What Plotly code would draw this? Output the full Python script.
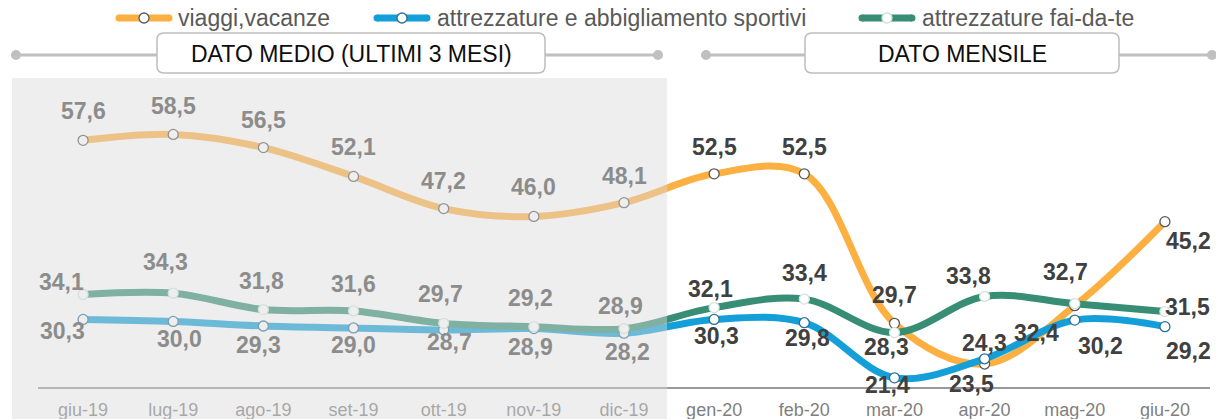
import plotly.graph_objects as go

# ---- data ----
months = ['giu-19', 'lug-19', 'ago-19', 'set-19', 'ott-19', 'nov-19', 'dic-19',
          'gen-20', 'feb-20', 'mar-20', 'apr-20', 'mag-20', 'giu-20']

viaggi = [57.6, 58.5, 56.5, 52.1, 47.2, 46.0, 48.1, 52.5, 52.5, 29.7, 23.5, 32.4, 45.2]
sportivi = [30.3, 30.0, 29.3, 29.0, 28.7, 28.9, 28.2, 30.3, 29.8, 21.4, 24.3, 30.2, 29.2]
faidate = [34.1, 34.3, 31.8, 31.6, 29.7, 29.2, 28.9, 32.1, 33.4, 28.3, 33.8, 32.7, 31.5]

names = ['viaggi,vacanze', 'attrezzature e abbigliamento sportivi', 'attrezzature fai-da-te']
n_avg = 7  # first 7 months are 3-month averages

# ---- style ----
W, H = 1216, 419
L, R, T, B = 38, 6, 78, 32
PW, PH = W - L - R, H - T - B
FONT = 'Liberation Sans, Arial, sans-serif'

colors = ['#FDB042', '#149FD8', '#378E75']
mk_line = ['#595959', '#2b6f95', '#cfe3da']

# label offsets in pixels (dx right, dy down) relative to each point
shifts = [
    [(0, -29), (0, -28), (0, -28), (0, -29), (0, -28), (0, -29), (0, -27),
     (0, -27), (0, -27), (0, -28), (-13, 20), (-38, 27), (24, 19)],
    [(-21, 12), (6, 18), (-5, 19), (0, 17), (6, 12), (-3, 18), (3, 19),
     (2, 17), (3, 15), (-7, 7), (0, -16), (26, 26), (24, 24)],
    [(-22, -13), (-8, -31), (-2, -29), (0, -27), (-3, -29), (-3, -29), (-4, -23),
     (-4, -19), (0, -26), (-8, 14), (-16, -20), (-9, -32), (23, -5)],
]


def px(x):
    return (x - L) / PW


def py(y):
    return (H - B - y) / PH


def fmt(v):
    return f'{v:.1f}'.replace('.', ',')


fig = go.Figure()
series = [viaggi, sportivi, faidate]
xs = list(range(len(months)))

for i, vals in enumerate(series):
    fig.add_trace(go.Scatter(
        x=xs, y=vals, mode='lines+markers', name=names[i],
        line=dict(color=colors[i], width=7, shape='spline', smoothing=1.0),
        marker=dict(size=10, color='white', line=dict(color=mk_line[i], width=1.3)),
        showlegend=False, hoverinfo='skip'))

annotations = []
for i, vals in enumerate(series):
    for j, v in enumerate(vals):
        dx, dy = shifts[i][j]
        annotations.append(dict(
            x=j, y=v, xref='x', yref='y', text=fmt(v), showarrow=False,
            xanchor='center', yanchor='middle',
            xshift=dx, yshift=-dy,
            font=dict(family=FONT, size=23, weight='bold',
                      color='#8c8c8c' if j < n_avg else '#404040')))

shapes = []
# shaded "average" area, drawn over the traces
shapes.append(dict(type='rect', xref='paper', yref='paper', layer='above',
                   x0=px(12), x1=px(667), y0=py(H + 5), y1=py(78),
                   fillcolor='rgba(218,218,218,0.45)', line=dict(width=0)))

# header bars
hdr_y = 55
gray = '#c0c0c0'
for x0, x1 in [(16, 658), (706, 1212)]:
    shapes.append(dict(type='line', xref='paper', yref='paper',
                       x0=px(x0), x1=px(x1), y0=py(hdr_y), y1=py(hdr_y),
                       line=dict(color=gray, width=3)))
    for xc in (x0, x1):
        shapes.append(dict(type='circle', xref='paper', yref='paper',
                           x0=px(xc - 5), x1=px(xc + 5), y0=py(hdr_y + 5), y1=py(hdr_y - 5),
                           fillcolor=gray, line=dict(width=0)))


def rounded(x0, y0, x1, y1, r):
    p = [f'M{px(x0 + r)},{py(y0)}', f'L{px(x1 - r)},{py(y0)}',
         f'Q{px(x1)},{py(y0)} {px(x1)},{py(y0 + r)}', f'L{px(x1)},{py(y1 - r)}',
         f'Q{px(x1)},{py(y1)} {px(x1 - r)},{py(y1)}', f'L{px(x0 + r)},{py(y1)}',
         f'Q{px(x0)},{py(y1)} {px(x0)},{py(y1 - r)}', f'L{px(x0)},{py(y0 + r)}',
         f'Q{px(x0)},{py(y0)} {px(x0 + r)},{py(y0)}', 'Z']
    return ' '.join(p)


boxes = [((157, 545), 'DATO MEDIO (ULTIMI 3 MESI)'), ((805, 1119), 'DATO MENSILE')]
for (bx0, bx1), label in boxes:
    shapes.append(dict(type='path', xref='paper', yref='paper',
                       path=rounded(bx0, 33, bx1, 73, 7),
                       fillcolor='white', line=dict(color='#bdbdbd', width=1.5)))
    annotations.append(dict(x=px((bx0 + bx1) / 2), y=py(54), xref='paper', yref='paper',
                            xanchor='center', yanchor='middle',
                            text=label, showarrow=False,
                            font=dict(family=FONT, size=23, color='#0d0d0d')))

# legend row
leg_y = 18
for i, (lx, tx) in enumerate([(116, 176), (374, 435), (859, 920)]):
    shapes.append(dict(type='line', xref='paper', yref='paper',
                       x0=px(lx + 3), x1=px(lx + 53), y0=py(leg_y), y1=py(leg_y),
                       line=dict(color=colors[i], width=7)))
    for xc in (lx + 3, lx + 53):
        shapes.append(dict(type='circle', xref='paper', yref='paper',
                           x0=px(xc - 3.5), x1=px(xc + 3.5),
                           y0=py(leg_y + 3.5), y1=py(leg_y - 3.5),
                           fillcolor=colors[i], line=dict(width=0)))
    shapes.append(dict(type='circle', xref='paper', yref='paper',
                       x0=px(lx + 23), x1=px(lx + 33), y0=py(leg_y + 5), y1=py(leg_y - 5),
                       fillcolor='white', line=dict(color=mk_line[i], width=1.3)))
    annotations.append(dict(x=px(tx), y=py(leg_y), xref='paper', yref='paper',
                            xanchor='left', yanchor='middle', text=names[i], showarrow=False,
                            font=dict(family=FONT, size=23, color='#595959')))

fig.update_layout(
    width=W, height=H,
    margin=dict(l=L, r=R, t=T, b=B),
    paper_bgcolor='white', plot_bgcolor='white',
    showlegend=False,
    shapes=shapes, annotations=annotations,
    xaxis=dict(range=[-0.5, len(months) - 0.5], tickmode='array', tickvals=xs,
               ticktext=months, showgrid=False, zeroline=False, automargin=False,
               showline=True, linecolor='#999999', linewidth=1.5, ticks='',
               ticklabelstandoff=6,
               tickfont=dict(family=FONT, size=18, color='#7f7f7f')),
    yaxis=dict(range=[20, 20 + PH / 6.56], visible=False, showgrid=False,
               zeroline=False, automargin=False),
)

# drop the default page margin so the chart sits at the window's top-left corner
fig.write_html('out.html', config={'displayModeBar': False},
               post_script="document.body.style.margin='0px';")
